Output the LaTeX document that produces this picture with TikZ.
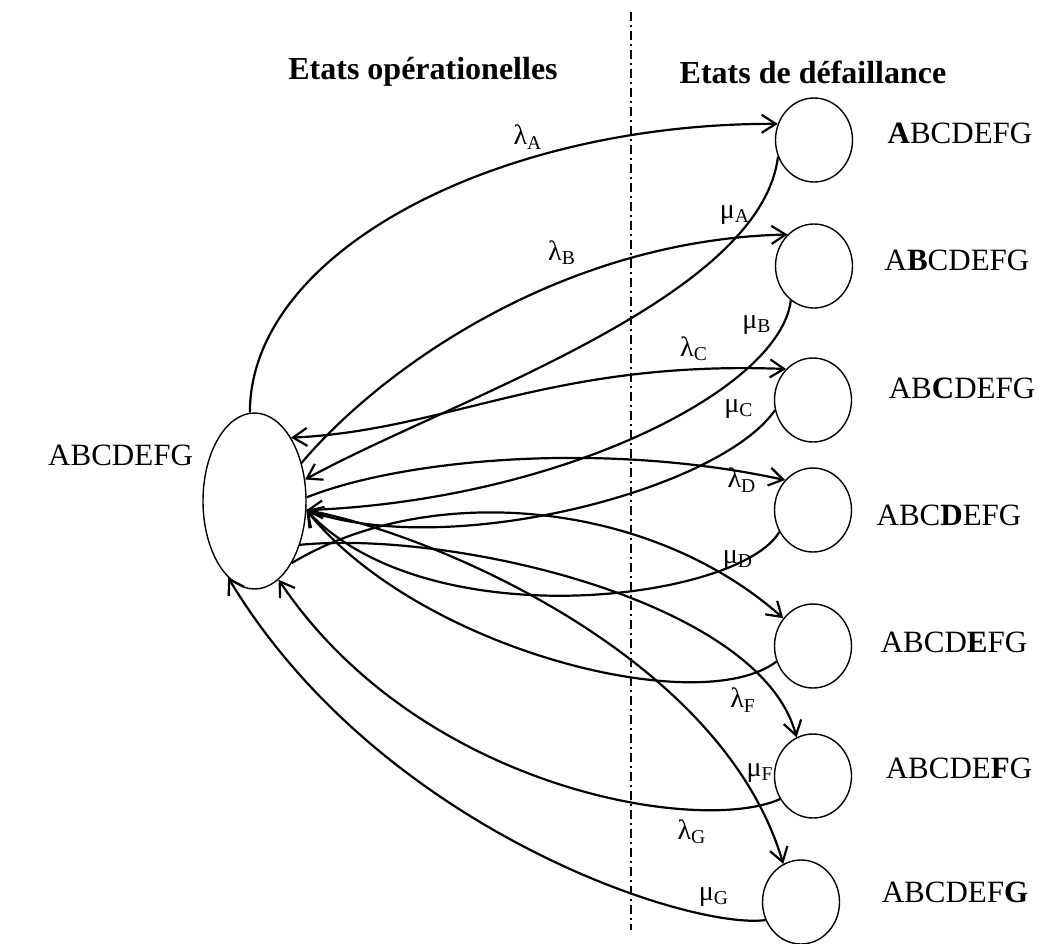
\documentclass[tikz,border=0pt]{standalone}
\usepackage{fontspec}
\setmainfont{Liberation Serif}
\usetikzlibrary{arrows.meta, shapes.geometric}

\begin{document}
\begin{tikzpicture}[
    x=0.5pt, y=-0.5pt,
    >={Straight Barb[length=7pt,width=9pt]},
    font=\fontsize{15.5}{18}\selectfont,
    trans/.style={line width=1.1pt},
    opstate/.style={draw, ellipse, line width=0.7pt, minimum width=51.5pt, minimum height=88pt, inner sep=0pt},
    failstate/.style={draw, ellipse, line width=0.7pt, minimum width=38.5pt, minimum height=42pt, inner sep=0pt},
    rate/.style={font=\fontsize{14}{16}\selectfont, inner sep=0pt},
    header/.style={font=\bfseries\fontsize{16}{19}\selectfont}
]
    \useasboundingbox (0,0) rectangle (1039,943);

    % Headers and separator
    \node[header] (hop) at (423,72) {Etats opérationelles};
    \node[header] (hfail) at (813,72) {Etats de défaillance};
    \coordinate (sepT) at (631,12);
    \coordinate (sepB) at (631,930);
    \draw[line width=0.7pt, dash pattern=on 4.5pt off 2pt on 1pt off 2pt] (sepT) -- (sepB);

    % Operational state
    \node[opstate] (op) at (254.5,501) {};
    \node[anchor=east] (oplbl) at (200,455) {ABCDEFG};

    % Failure states
    \node[failstate] (fA) at (814,140) {};
    \node (tA) at (960,133) {\textbf{A}BCDEFG};
    \node[failstate] (fB) at (814,266) {};
    \node (tB) at (957,260) {A\textbf{B}CDEFG};
    \node[failstate] (fC) at (813,400) {};
    \node (tC) at (962,388) {AB\textbf{C}DEFG};
    \node[failstate] (fD) at (813,510) {};
    \node (tD) at (949,515) {ABC\textbf{D}EFG};
    \node[failstate] (fE) at (813,646) {};
    \node (tE) at (954,642) {ABCD\textbf{E}FG};
    \node[failstate] (fF) at (813,776) {};
    \node (tF) at (959,768) {ABCDE\textbf{F}G};
    \node[failstate] (fG) at (801,902) {};
    \node (tG) at (955,892) {ABCDEF\textbf{G}};

    % Failure transitions (lambda)
    \draw[trans,->] (op.93) .. controls (250,250) and (500,123) .. (fA.156);
    \draw[trans,->] (op.39) .. controls (380,370) and (560,240) .. (fB.130);
    \draw[trans,<->] (op.60) .. controls (450,430) and (550,360) .. (fC.131);
    \draw[trans,->] (op.4) .. controls (400,460) and (600,440) .. (fD.133);
    \draw[trans,->] (op.301) .. controls (430,480) and (650,500) .. (fE.137);
    \draw[trans,->] (op.316) .. controls (450,530) and (760,600) .. (fF.113);
    \draw[trans,->] (op.350) .. controls (420,530) and (720,650) .. (fG.115);

    % Repair transitions (mu)
    \draw[trans,->] (fA.205) .. controls (760,300) and (450,400) .. (op.23);
    \draw[trans,->] (fB.236) .. controls (780,390) and (560,500) .. (op.350);
    \draw[trans,->] (fC.195) .. controls (720,490) and (450,560) .. (op.350);
    \draw[trans,->] (fD.213) .. controls (740,600) and (430,640) .. (op.350);
    \draw[trans,->] (fE.203) .. controls (700,720) and (420,650) .. (op.350);
    \draw[trans,->] (fF.215) .. controls (700,835) and (420,790) .. (op.287);
    \draw[trans,->] (fG.207) .. controls (690,930) and (380,830) .. (op.251);

    % Rate labels
    \node[rate] (lA) at (528,137) {λ\textsubscript{A}};
    \node[rate] (mA) at (735,215) {μ\textsubscript{A}};
    \node[rate] (lB) at (562,253) {λ\textsubscript{B}};
    \node[rate] (mB) at (757,325) {μ\textsubscript{B}};
    \node[rate] (lC) at (694,349) {λ\textsubscript{C}};
    \node[rate] (mC) at (739,409) {μ\textsubscript{C}};
    \node[rate] (lD) at (742,480) {λ\textsubscript{D}};
    \node[rate] (mD) at (738,560) {μ\textsubscript{D}};
    \node[rate] (lF) at (743,700) {λ\textsubscript{F}};
    \node[rate] (mF) at (760,773) {μ\textsubscript{F}};
    \node[rate] (lG) at (692,832) {λ\textsubscript{G}};
    \node[rate] (mG) at (714,897) {μ\textsubscript{G}};

\end{tikzpicture}
\end{document}
